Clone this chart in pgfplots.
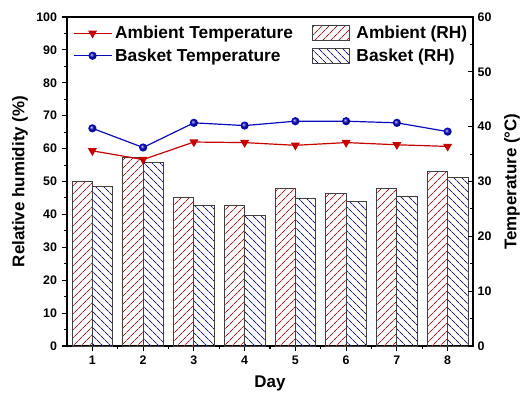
\documentclass[border=0pt]{standalone}
\usepackage{fontspec}
\setmainfont{Liberation Sans}
\usepackage{pgfplots}
\usepackage{pgfplotstable}
\pgfplotsset{compat=1.18}
\usetikzlibrary{patterns.meta}
\definecolor{hatchred}{RGB}{175,25,25}
\definecolor{hatchblue}{RGB}{25,25,140}
\definecolor{linered}{RGB}{200,0,0}
\definecolor{lineblue}{RGB}{10,10,190}

\pgfplotstableread{
day ambRH basRH
1 49.9 48.4
2 57.3 55.8
3 45.1 42.8
4 42.6 39.7
5 47.9 45.0
6 46.4 44.0
7 47.9 45.6
8 53.0 51.1
}\rhdata
\pgfplotstableread{
day ambT basT
1 35.6 39.7
2 34.0 36.2
3 37.2 40.7
4 37.1 40.2
5 36.6 41.0
6 37.1 41.0
7 36.7 40.7
8 36.4 39.1
}\tdata

\pgfplotsset{
  common/.style={
    scale only axis, width=304.5pt, height=246.75pt,
    xmin=0.5, xmax=8.5,
    /pgf/number format/assume math mode=true,
    tick label style={font=\bfseries\fontsize{9.3}{11}\selectfont},
    label style={font=\bfseries\fontsize{12.7}{15}\selectfont},
    major tick length=4pt, minor tick length=2.3pt,
    axis line style={line width=0.8pt, black},
    every tick/.style={black, line width=0.8pt},
  },
  redhatch/.style={draw=black!75, line width=0.6pt,
    pattern={Lines[angle=45,distance=4pt,line width=0.7pt]}, pattern color=hatchred},
  bluehatch/.style={draw=black!75, line width=0.6pt,
    pattern={Lines[angle=-45,distance=4pt,line width=0.7pt]}, pattern color=hatchblue},
  boxlegend/.style={legend image code/.code={\draw[##1] (0pt,-5.6pt) rectangle (28pt,5.6pt);\path (31pt,0pt);}},
  linelegend/.style={legend image code/.code={\draw[mark repeat=2,mark phase=2,##1] plot coordinates {(0pt,0pt) (14pt,0pt) (28.5pt,0pt)};}},
}

\begin{document}
\begin{tikzpicture}
\useasboundingbox (-50.25pt,-36pt) rectangle (341.25pt,259.5pt);
\begin{axis}[common,
  ymin=0, ymax=100, ytick={0,10,...,100}, minor y tick num=1,
  xtick={1,...,8}, minor x tick num=1,
  tick align=outside, xtick pos=bottom, ytick pos=left,
  xlabel={Day}, ylabel={Relative humidity (\%)},
  xlabel style={at={(axis description cs:0.5,-0.1125)}, anchor=center},
  ylabel style={at={(axis description cs:-0.116,0.5)}, anchor=center},
]
\addplot[ybar, bar width=0.4, bar shift=-0.2, redhatch] table[x=day,y=ambRH]{\rhdata};
\addplot[ybar, bar width=0.4, bar shift=0.2, bluehatch] table[x=day,y=basRH]{\rhdata};
\end{axis}
\begin{axis}[common,
  ymin=0, ymax=60, ytick={0,10,...,60}, minor y tick num=1,
  axis y line*=right, axis x line=none, tick align=inside,
  ylabel={Temperature (°C)},
  ylabel style={at={(axis description cs:1.096,0.5)}, anchor=center},
  legend columns=2, legend cell align=left,
  legend style={at={(axis description cs:0.005,0.99)}, anchor=north west,
    draw=none, fill=none, font=\bfseries\fontsize{13}{15}\selectfont,
    /tikz/every even column/.append style={column sep=12pt}, row sep=2pt},
]
\addplot[linered, line width=0.9pt, mark=triangle*, mark size=3pt,
  mark options={fill=linered, rotate=180}, linelegend] table[x=day,y=ambT]{\tdata};
\addlegendentry{Ambient Temperature}
\addlegendimage{redhatch, boxlegend}
\addlegendentry{Ambient (RH)}
\addplot[lineblue, line width=0.9pt, mark=ball, mark size=2.6pt,
  mark options={ball color=lineblue}, linelegend] table[x=day,y=basT]{\tdata};
\addlegendentry{Basket Temperature}
\addlegendimage{bluehatch, boxlegend}
\addlegendentry{Basket (RH)}
\end{axis}
\end{tikzpicture}
\end{document}
